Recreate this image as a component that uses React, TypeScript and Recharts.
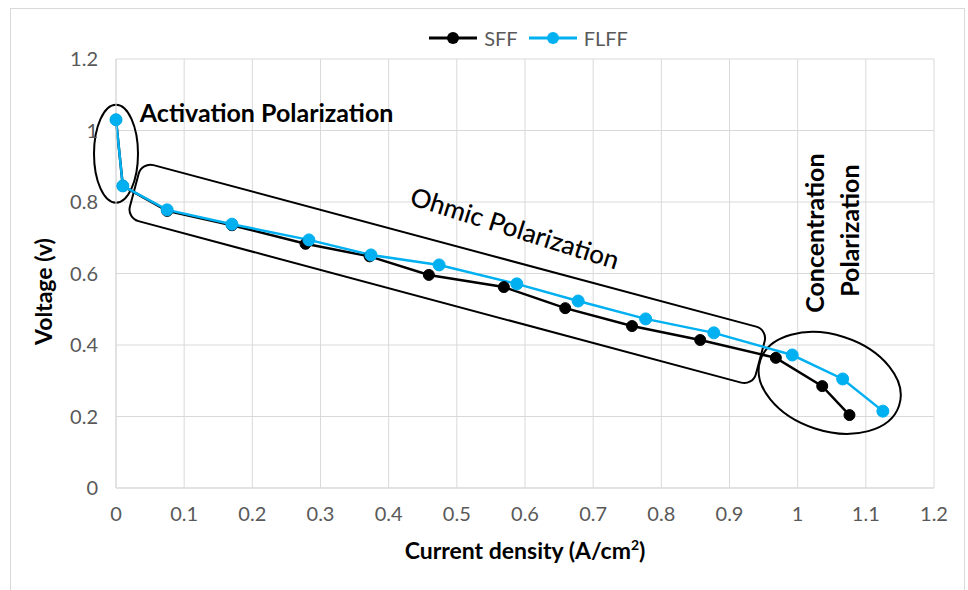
import { LineChart, Line, XAxis, YAxis, CartesianGrid, Legend, Customized } from 'recharts'

// current density (A/cm2) and voltage (V)
const sffCurrent = [0, 0.01, 0.075, 0.17, 0.278, 0.372, 0.459, 0.569, 0.659, 0.757, 0.857, 0.968, 1.036, 1.076]
const sffVoltage = [1.03, 0.845, 0.775, 0.735, 0.683, 0.648, 0.596, 0.562, 0.503, 0.453, 0.414, 0.364, 0.285, 0.204]
const flffCurrent = [0, 0.01, 0.075, 0.17, 0.283, 0.374, 0.474, 0.588, 0.678, 0.777, 0.877, 0.992, 1.066, 1.125]
const flffVoltage = [1.03, 0.845, 0.778, 0.738, 0.694, 0.652, 0.624, 0.571, 0.523, 0.473, 0.434, 0.372, 0.305, 0.215]

const xTicks = [0, 0.1, 0.2, 0.3, 0.4, 0.5, 0.6, 0.7, 0.8, 0.9, 1, 1.1, 1.2]
const yTicks = [0, 0.2, 0.4, 0.6, 0.8, 1, 1.2]

const seriesNames = ['SFF', 'FLFF']
const seriesColors = ['#000000', '#00B0F0']

const sffData = sffCurrent.map((x, i) => ({ x, v: sffVoltage[i] }))
const flffData = flffCurrent.map((x, i) => ({ x, v: flffVoltage[i] }))

const W = 968
const H = 590
const FONT = 'Lato, "Open Sans", sans-serif'
const GREY = '#595959'

// plot area, used only to place the hand-drawn annotation shapes
const PLOT = { left: 116, top: 59, right: 934, bottom: 488 }
const px = (x: number) => PLOT.left + (x / 1.2) * (PLOT.right - PLOT.left)
const py = (y: number) => PLOT.bottom - (y / 1.2) * (PLOT.bottom - PLOT.top)

function Annotations() {
  const rcx = px(0.486)
  const rcy = py(0.599)
  const ecx = px(1.047)
  const ecy = py(0.294)
  const ohx = px(0.581)
  const ohy = py(0.702)
  const c1x = px(1.0386)
  const c1y = py(0.713)
  const c2x = px(1.09)
  const c2y = py(0.72)
  return (
    <g fill="none" stroke="#000" strokeWidth={2}>
      <ellipse cx={px(0)} cy={py(0.935)} rx={22} ry={49} />
      <rect
        x={rcx - 324}
        y={rcy - 29}
        width={648}
        height={58}
        rx={12}
        transform={`rotate(15 ${rcx} ${rcy})`}
      />
      <ellipse cx={ecx} cy={ecy} rx={73} ry={48} transform={`rotate(18 ${ecx} ${ecy})`} />
      <g stroke="none" fill="#000" fontFamily={FONT}>
        <text x={px(0.035)} y={py(1.024)} fontSize={25} fontWeight={700}>
          Activation Polarization
        </text>
        <text
          x={ohx}
          y={ohy}
          fontSize={26}
          fontWeight={500}
          textAnchor="middle"
          transform={`rotate(17.5 ${ohx} ${ohy})`}
        >
          Ohmic Polarization
        </text>
        <text
          x={c1x}
          y={c1y}
          fontSize={25}
          fontWeight={700}
          textAnchor="middle"
          transform={`rotate(-90 ${c1x} ${c1y})`}
        >
          Concentration
        </text>
        <text
          x={c2x}
          y={c2y}
          fontSize={25}
          fontWeight={700}
          textAnchor="middle"
          transform={`rotate(-90 ${c2x} ${c2y})`}
        >
          Polarization
        </text>
      </g>
    </g>
  )
}

function LegendContent() {
  return (
    <div
      style={{
        display: 'flex',
        justifyContent: 'center',
        alignItems: 'center',
        height: 30,
        fontFamily: FONT,
        fontSize: 20,
        color: GREY,
        paddingLeft: 88,
      }}
    >
      {seriesNames.map((name, i) => (
        <div key={name} style={{ display: 'flex', alignItems: 'center', marginRight: i === 0 ? 10 : 0 }}>
          <svg width={50} height={14} style={{ marginRight: 6 }}>
            <line x1={1} y1={7} x2={49} y2={7} stroke={seriesColors[i]} strokeWidth={3} />
            <circle cx={25} cy={7} r={6} fill={seriesColors[i]} />
          </svg>
          <span>{name}</span>
        </div>
      ))}
    </div>
  )
}

const XLabel = (props: any) => {
  const vb = props.viewBox
  return (
    <text
      x={vb.x + vb.width / 2}
      y={vb.y + 71}
      textAnchor="middle"
      fontFamily={FONT}
      fontSize={23}
      fontWeight={700}
      fill="#000"
    >
      Current density (A/cm
      <tspan fontSize={14} dy={-9}>
        2
      </tspan>
      <tspan dy={9}>)</tspan>
    </text>
  )
}

const YLabel = (props: any) => {
  const vb = props.viewBox
  const cx = vb.x + 36
  const cy = vb.y + vb.height / 2 + 18
  return (
    <text
      x={cx}
      y={cy}
      textAnchor="middle"
      transform={`rotate(-90 ${cx} ${cy})`}
      fontFamily={FONT}
      fontSize={23}
      fontWeight={700}
      fill="#000"
    >
      Voltage (v)
    </text>
  )
}

export default function App() {
  return (
    <div style={{ position: 'absolute', left: 0, top: 0, width: W, height: H, background: '#fff' }}>
      <div
        style={{
          position: 'absolute',
          left: 10,
          top: 8,
          width: 955,
          height: 590,
          border: '1px solid #d9d9d9',
          boxSizing: 'border-box',
        }}
      />
      <LineChart
        width={W}
        height={H}
        margin={{ top: 23, right: 34, left: 16, bottom: 32 }}
        style={{ position: 'absolute', left: 0, top: 0 }}
      >
        <CartesianGrid stroke="#d9d9d9" strokeWidth={1} />
        <XAxis
          type="number"
          dataKey="x"
          domain={[0, 1.2]}
          ticks={xTicks}
          interval={0}
          height={70}
          axisLine={{ stroke: '#d9d9d9' }}
          tickLine={false}
          tickMargin={13}
          tick={{ fill: GREY, fontSize: 20, fontFamily: FONT }}
          label={<XLabel />}
        />
        <YAxis
          type="number"
          domain={[0, 1.2]}
          ticks={yTicks}
          interval={0}
          width={100}
          axisLine={{ stroke: '#d9d9d9' }}
          tickLine={false}
          tickMargin={12}
          tick={{ fill: GREY, fontSize: 20, fontFamily: FONT }}
          label={<YLabel />}
        />
        <Legend
          verticalAlign="top"
          align="center"
          content={<LegendContent />}
          wrapperStyle={{ height: 36, left: 0, width: W }}
        />
        <Line
          data={sffData}
          dataKey="v"
          name={seriesNames[0]}
          stroke={seriesColors[0]}
          strokeWidth={2.5}
          dot={{ r: 5.5, fill: seriesColors[0], stroke: seriesColors[0], strokeWidth: 1 }}
          isAnimationActive={false}
        />
        <Line
          data={flffData}
          dataKey="v"
          name={seriesNames[1]}
          stroke={seriesColors[1]}
          strokeWidth={2.5}
          dot={{ r: 6, fill: seriesColors[1], stroke: seriesColors[1], strokeWidth: 1 }}
          isAnimationActive={false}
        />
        <Customized component={<Annotations />} />
      </LineChart>
    </div>
  )
}
